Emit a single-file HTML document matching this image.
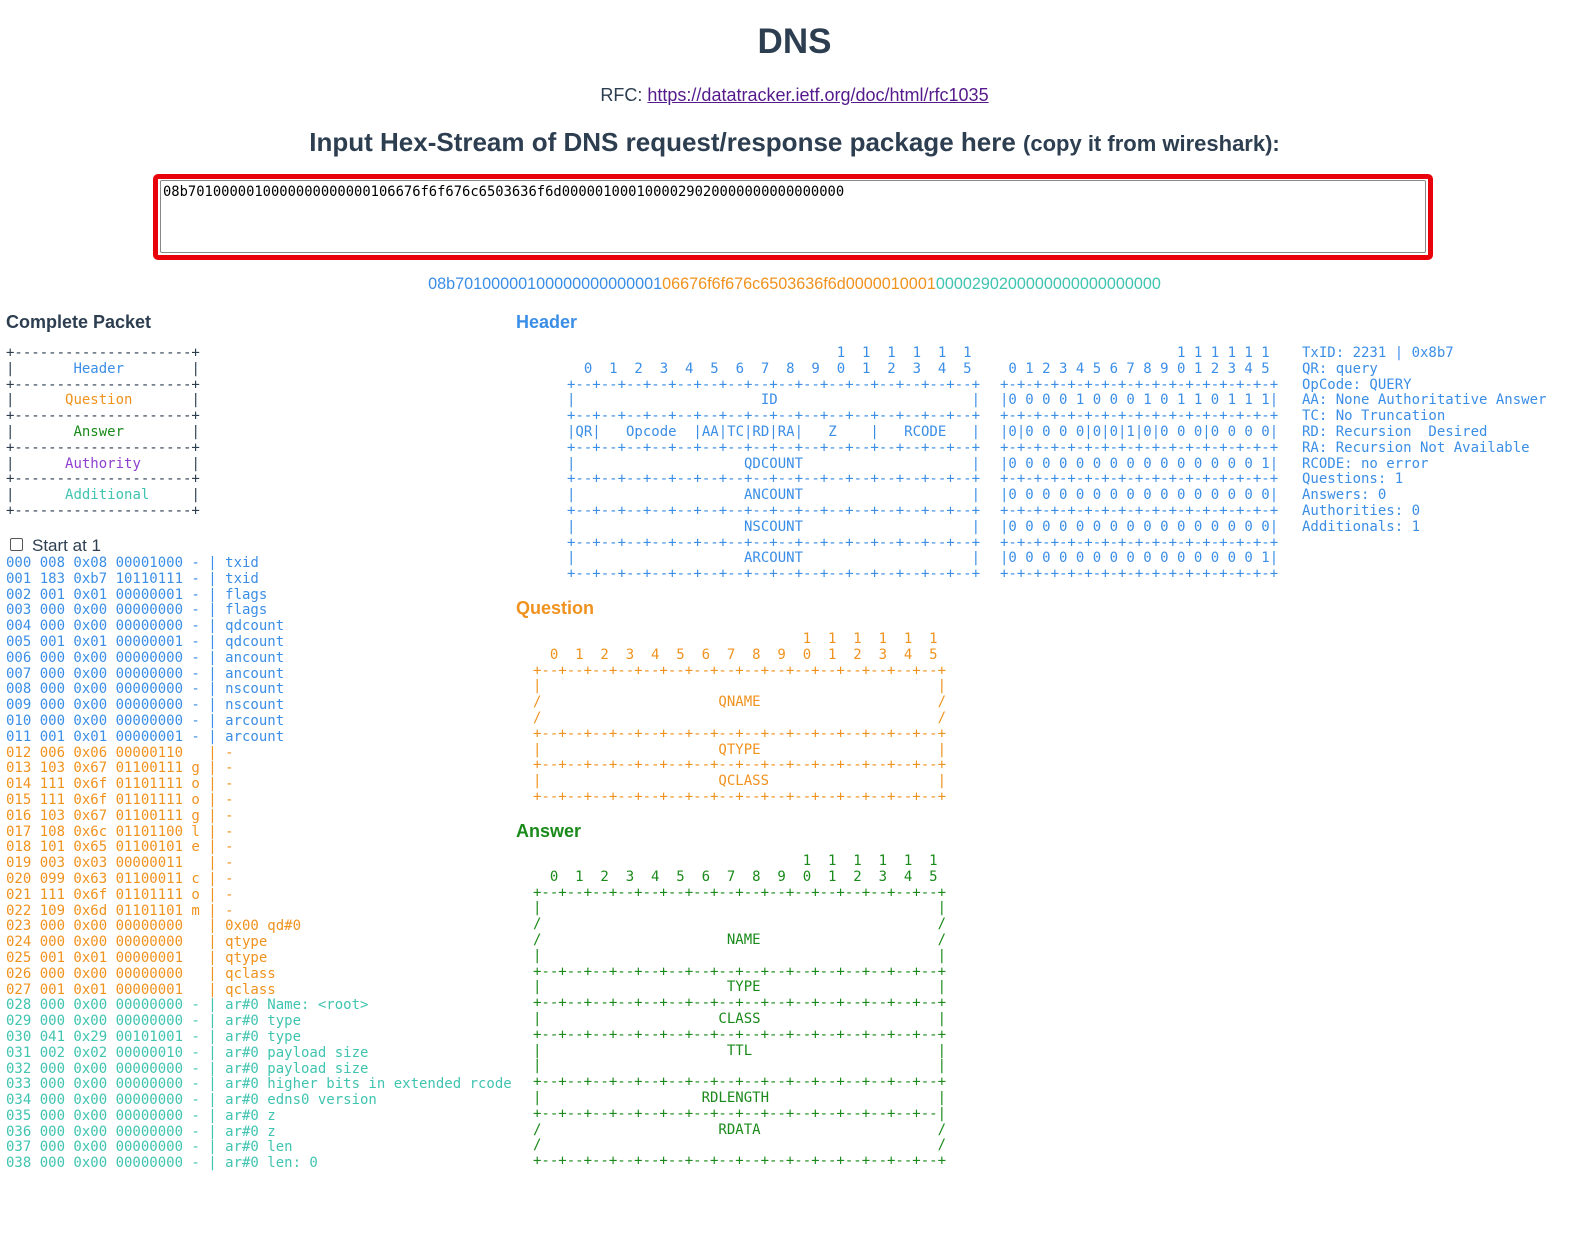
<!DOCTYPE html>
<html style="width:1589px;height:1233px;overflow:hidden"><head><meta charset="utf-8"><style>
html,body{margin:0;padding:0}
body{width:1589px;height:1233px;background:#fff;position:relative;font-family:"Liberation Sans",sans-serif;color:#2c3e50;overflow:hidden}
.a{position:absolute;white-space:pre;margin:0}
pre.a{font-family:"DejaVu Sans Mono",monospace;font-size:14px;line-height:15.8px}
.b{color:#3b8ee6}.o{color:#f0921e}.g{color:#1a8a1a}.p{color:#9040d0}.t{color:#40c4b0}.k{color:#2c3e50}
h3{position:absolute;margin:0;font-size:18px;font-weight:bold}
</style></head><body>
<div class="a" style="left:0;width:1589px;text-align:center;top:22px;font-size:35px;font-weight:bold">DNS</div>
<div class="a" style="left:0;width:1589px;text-align:center;top:85px;font-size:18px">RFC: <span style="color:#551a8b;text-decoration:underline">https://datatracker.ietf.org/doc/html/rfc1035</span></div>
<div class="a" style="left:0;width:1589px;text-align:center;top:127px;font-size:26px;font-weight:bold">Input Hex-Stream of DNS request/response package here <span style="font-size:22px">(copy it from wireshark):</span></div>
<div class="a" style="left:153px;top:174px;width:1270px;height:76px;border:5px solid #e8000b;border-radius:5px"></div>
<div class="a" style="left:160px;top:180px;width:1264px;height:71px;border:1px solid #888;border-radius:2px;"></div>
<div class="a" style="left:163px;top:184px;font-family:'DejaVu Sans Mono',monospace;font-size:13.8px;color:#000">08b7010000010000000000000106676f6f676c6503636f6d0000010001000029020000000000000000</div>
<div class="a" style="left:0;width:1589px;text-align:center;top:275px;font-size:16.2px"><span class="b">08b70100000100000000000001</span><span class="o">06676f6f676c6503636f6d0000010001</span><span class="t">0000290200000000000000000</span></div>

<h3 style="left:6px;top:312px">Complete Packet</h3>
<h3 class="b" style="left:516px;top:312px">Header</h3>
<h3 class="o" style="left:516px;top:598px">Question</h3>
<h3 class="g" style="left:516px;top:821px">Answer</h3>

<pre class="a k" style="left:6px;top:346px">+---------------------+
|       <span class="b">Header</span>        |
+---------------------+
|      <span class="o">Question</span>       |
+---------------------+
|       <span class="g">Answer</span>        |
+---------------------+
|      <span class="p">Authority</span>      |
+---------------------+
|      <span class="t">Additional</span>     |
+---------------------+</pre>

<div class="a" style="left:10px;top:538px;width:11px;height:11px;border:1px solid #555;border-radius:2px"></div>
<div class="a" style="left:32px;top:536px;font-size:17px">Start at 1</div>

<pre class="a" style="left:6px;top:556px"><span class="b">000 008 0x08 00001000 - | txid
001 183 0xb7 10110111 - | txid
002 001 0x01 00000001 - | flags
003 000 0x00 00000000 - | flags
004 000 0x00 00000000 - | qdcount
005 001 0x01 00000001 - | qdcount
006 000 0x00 00000000 - | ancount
007 000 0x00 00000000 - | ancount
008 000 0x00 00000000 - | nscount
009 000 0x00 00000000 - | nscount
010 000 0x00 00000000 - | arcount
011 001 0x01 00000001 - | arcount</span>
<span class="o">012 006 0x06 00000110   | -
013 103 0x67 01100111 g | -
014 111 0x6f 01101111 o | -
015 111 0x6f 01101111 o | -
016 103 0x67 01100111 g | -
017 108 0x6c 01101100 l | -
018 101 0x65 01100101 e | -
019 003 0x03 00000011   | -
020 099 0x63 01100011 c | -
021 111 0x6f 01101111 o | -
022 109 0x6d 01101101 m | -
023 000 0x00 00000000   | 0x00 qd#0
024 000 0x00 00000000   | qtype
025 001 0x01 00000001   | qtype
026 000 0x00 00000000   | qclass
027 001 0x01 00000001   | qclass</span>
<span class="t">028 000 0x00 00000000 - | ar#0 Name: &lt;root&gt;
029 000 0x00 00000000 - | ar#0 type
030 041 0x29 00101001 - | ar#0 type
031 002 0x02 00000010 - | ar#0 payload size
032 000 0x00 00000000 - | ar#0 payload size
033 000 0x00 00000000 - | ar#0 higher bits in extended rcode
034 000 0x00 00000000 - | ar#0 edns0 version
035 000 0x00 00000000 - | ar#0 z
036 000 0x00 00000000 - | ar#0 z
037 000 0x00 00000000 - | ar#0 len
038 000 0x00 00000000 - | ar#0 len: 0</span></pre>

<pre class="a b" style="left:567px;top:346px">                                1  1  1  1  1  1
  0  1  2  3  4  5  6  7  8  9  0  1  2  3  4  5
+--+--+--+--+--+--+--+--+--+--+--+--+--+--+--+--+
|                      ID                       |
+--+--+--+--+--+--+--+--+--+--+--+--+--+--+--+--+
|QR|   Opcode  |AA|TC|RD|RA|   Z    |   RCODE   |
+--+--+--+--+--+--+--+--+--+--+--+--+--+--+--+--+
|                    QDCOUNT                    |
+--+--+--+--+--+--+--+--+--+--+--+--+--+--+--+--+
|                    ANCOUNT                    |
+--+--+--+--+--+--+--+--+--+--+--+--+--+--+--+--+
|                    NSCOUNT                    |
+--+--+--+--+--+--+--+--+--+--+--+--+--+--+--+--+
|                    ARCOUNT                    |
+--+--+--+--+--+--+--+--+--+--+--+--+--+--+--+--+</pre>

<pre class="a b" style="left:1000px;top:346px">                     1 1 1 1 1 1
 0 1 2 3 4 5 6 7 8 9 0 1 2 3 4 5
+-+-+-+-+-+-+-+-+-+-+-+-+-+-+-+-+
|0 0 0 0 1 0 0 0 1 0 1 1 0 1 1 1|
+-+-+-+-+-+-+-+-+-+-+-+-+-+-+-+-+
|0|0 0 0 0|0|0|1|0|0 0 0|0 0 0 0|
+-+-+-+-+-+-+-+-+-+-+-+-+-+-+-+-+
|0 0 0 0 0 0 0 0 0 0 0 0 0 0 0 1|
+-+-+-+-+-+-+-+-+-+-+-+-+-+-+-+-+
|0 0 0 0 0 0 0 0 0 0 0 0 0 0 0 0|
+-+-+-+-+-+-+-+-+-+-+-+-+-+-+-+-+
|0 0 0 0 0 0 0 0 0 0 0 0 0 0 0 0|
+-+-+-+-+-+-+-+-+-+-+-+-+-+-+-+-+
|0 0 0 0 0 0 0 0 0 0 0 0 0 0 0 1|
+-+-+-+-+-+-+-+-+-+-+-+-+-+-+-+-+</pre>

<pre class="a b" style="left:1302px;top:346px">TxID: 2231 | 0x8b7
QR: query
OpCode: QUERY
AA: None Authoritative Answer
TC: No Truncation
RD: Recursion  Desired
RA: Recursion Not Available
RCODE: no error
Questions: 1
Answers: 0
Authorities: 0
Additionals: 1</pre>

<pre class="a o" style="left:533px;top:632px">                                1  1  1  1  1  1
  0  1  2  3  4  5  6  7  8  9  0  1  2  3  4  5
+--+--+--+--+--+--+--+--+--+--+--+--+--+--+--+--+
|                                               |
/                     QNAME                     /
/                                               /
+--+--+--+--+--+--+--+--+--+--+--+--+--+--+--+--+
|                     QTYPE                     |
+--+--+--+--+--+--+--+--+--+--+--+--+--+--+--+--+
|                     QCLASS                    |
+--+--+--+--+--+--+--+--+--+--+--+--+--+--+--+--+</pre>

<pre class="a g" style="left:533px;top:854px">                                1  1  1  1  1  1
  0  1  2  3  4  5  6  7  8  9  0  1  2  3  4  5
+--+--+--+--+--+--+--+--+--+--+--+--+--+--+--+--+
|                                               |
/                                               /
/                      NAME                     /
|                                               |
+--+--+--+--+--+--+--+--+--+--+--+--+--+--+--+--+
|                      TYPE                     |
+--+--+--+--+--+--+--+--+--+--+--+--+--+--+--+--+
|                     CLASS                     |
+--+--+--+--+--+--+--+--+--+--+--+--+--+--+--+--+
|                      TTL                      |
|                                               |
+--+--+--+--+--+--+--+--+--+--+--+--+--+--+--+--+
|                   RDLENGTH                    |
+--+--+--+--+--+--+--+--+--+--+--+--+--+--+--+--|
/                     RDATA                     /
/                                               /
+--+--+--+--+--+--+--+--+--+--+--+--+--+--+--+--+</pre>
</body></html>
